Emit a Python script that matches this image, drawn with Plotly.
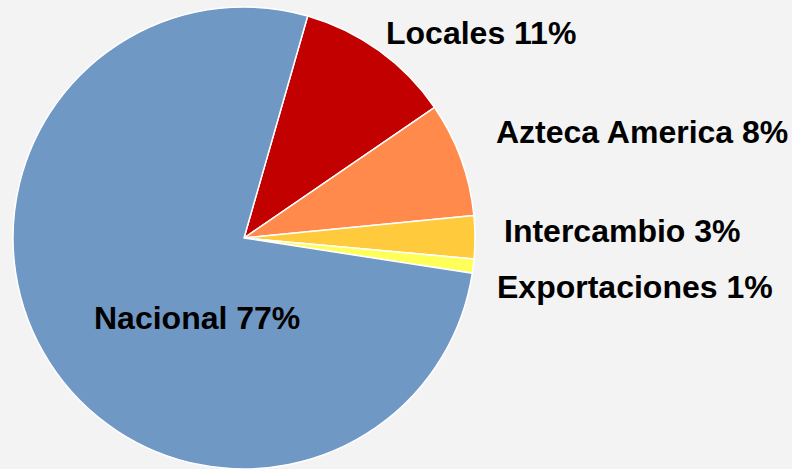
import plotly.graph_objects as go

# Data
labels = ["Locales", "Azteca America", "Intercambio", "Exportaciones", "Nacional"]
values = [11, 8, 3, 1, 77]
colors = ["#c20000", "#ff8a4c", "#ffcb3c", "#ffff5a", "#7098c4"]

W, H = 792, 469
cx, cy, r = 244, 238, 231

fig = go.Figure(go.Pie(
    labels=labels,
    values=values,
    sort=False,
    direction="clockwise",
    rotation=16,
    textinfo="none",
    hoverinfo="label+percent",
    marker=dict(colors=colors, line=dict(color="white", width=1.5)),
    domain=dict(x=[(cx - r) / W, (cx + r) / W],
                y=[max(0, (H - cy - r) / H), min(1, (H - cy + r) / H)]),
    showlegend=False,
))

# Label placement (pixel anchor: left x, vertical middle y)
label_pos = {
    "Locales": (384, 33),
    "Azteca America": (494, 132),
    "Intercambio": (502, 231),
    "Exportaciones": (495, 287),
    "Nacional": (92, 318),
}
for lab, val in zip(labels, values):
    px, py = label_pos[lab]
    fig.add_annotation(
        x=px / W, y=1 - py / H, xref="paper", yref="paper",
        xanchor="left", yanchor="middle", showarrow=False,
        text=f"{lab} {val}%",
        font=dict(family="Liberation Sans, Arial, sans-serif", size=32, color="black", weight="bold"),
    )

fig.update_layout(
    width=W, height=H,
    margin=dict(l=0, r=0, t=0, b=0),
    paper_bgcolor="#f3f3f3",
    plot_bgcolor="#f3f3f3",
)

fig.write_html(
    "out.html",
    config={"displayModeBar": False},
    post_script="document.body.style.margin='0';document.body.style.background='#f3f3f3';",
)
